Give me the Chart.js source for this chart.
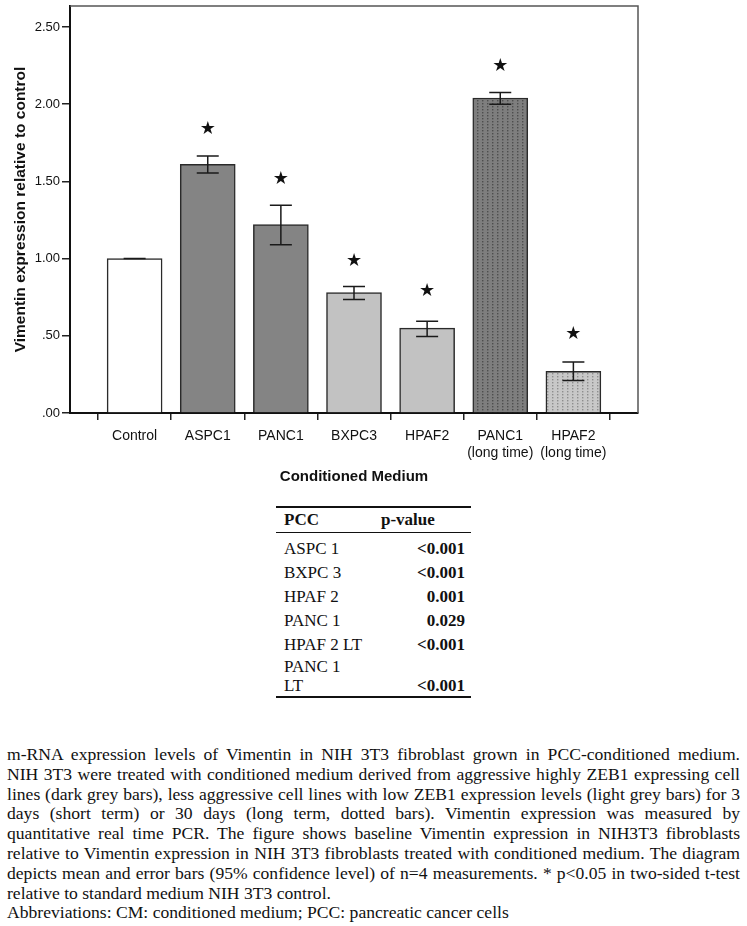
<!DOCTYPE html>
<html>
<head>
<meta charset="utf-8">
<script src="https://cdn.jsdelivr.net/npm/chart.js@4.4.1/dist/chart.umd.min.js"></script>
<style>
  body { margin: 0; background: #fff; width: 747px; height: 926px; position: relative; overflow: hidden; }
  #c { position: absolute; left: 0; top: 0; }
  #pcc { position: absolute; left: 276px; top: 506px; width: 195px; font-family: 'Liberation Serif', 'Times New Roman', serif; font-size: 17px; color: #111; }
  #pcc table { width: 195px; border-collapse: collapse; table-layout: fixed; }
  #pcc th { font-weight: bold; text-align: left; height: 24px; padding: 0 0 0 8px; border-top: 2px solid #111; border-bottom: 1px solid #111; }
  #pcc td { padding: 0 0 0 8px; line-height: 24px; vertical-align: bottom; }
  #pcc tr.first td { padding-top: 4px; }
  #pcc tr.last td { line-height: 19px; border-bottom: 2px solid #111; padding-bottom: 1px; }
  #pcc td.pv { font-weight: bold; text-align: right; padding-left: 0; padding-right: 6px; }
  #cap { position: absolute; left: 7px; top: 745px; width: 733px; font-family: 'Liberation Serif', 'Times New Roman', serif; font-size: 17.6px; line-height: 19.8px; color: #111; }
  #cap div { text-align: justify; text-align-last: justify; white-space: nowrap; }
  #cap div.end { text-align-last: left; }
</style>
</head>
<body>
<canvas id="c" width="747" height="490"></canvas>
<div id="pcc"><table><colgroup><col style="width:97px"><col style="width:98px"></colgroup><thead><tr><th>PCC</th><th style="padding-left:8px">p-value</th></tr></thead><tbody id="pcc-body"></tbody></table></div>
<div id="cap">
  <div>m-RNA expression levels of Vimentin in NIH 3T3 fibroblast grown in PCC-conditioned medium.</div>
  <div>NIH 3T3 were treated with conditioned medium derived from aggressive highly ZEB1 expressing cell</div>
  <div>lines (dark grey bars), less aggressive cell lines with low ZEB1 expression levels (light grey bars) for 3</div>
  <div>days (short term) or 30 days (long term, dotted bars). Vimentin expression was measured by</div>
  <div>quantitative real time PCR. The figure shows baseline Vimentin expression in NIH3T3 fibroblasts</div>
  <div>relative to Vimentin expression in NIH 3T3 fibroblasts treated with conditioned medium. The diagram</div>
  <div>depicts mean and error bars (95% confidence level) of n=4 measurements. * p&lt;0.05 in two-sided t-test</div>
  <div class="end">relative to standard medium NIH 3T3 control.</div>
  <div class="end">Abbreviations: CM: conditioned medium; PCC: pancreatic cancer cells</div>
</div>
<script>
// ── data ──
const categories = ['Control', 'ASPC1', 'PANC1', 'BXPC3', 'HPAF2', ['PANC1', '(long time)'], ['HPAF2', '(long time)']];
const means      = [1.00, 1.61, 1.22, 0.78, 0.55, 2.04, 0.27];
const ciLow      = [1.00, 1.555, 1.09, 0.735, 0.495, 2.00, 0.21];
const ciHigh     = [1.00, 1.665, 1.345, 0.82, 0.595, 2.075, 0.33];
const starAt     = [null, 1.835, 1.515, 0.985, 0.79, 2.245, 0.51];
const yTicks     = [0, 0.5, 1.0, 1.5, 2.0, 2.5];

const pccNames  = ['ASPC 1', 'BXPC 3', 'HPAF 2', 'PANC 1', 'HPAF 2 LT', 'PANC 1<br>LT'];
const pccValues = ['<0.001', '<0.001', '0.001', '0.029', '<0.001', '<0.001'];

// table
document.getElementById('pcc-body').innerHTML = pccNames.map((n, i) => {
  const cls = i === 0 ? ' class="first"' : i === pccNames.length - 1 ? ' class="last"' : '';
  const v = pccValues[i].replace('<', '&lt;');
  return `<tr${cls}><td>${n}</td><td class="pv">${v}</td></tr>`;
}).join('');

// dotted fills for the long-term bars
function dots(bg, dot) {
  const p = document.createElement('canvas');
  p.width = 5; p.height = 3;
  const g = p.getContext('2d');
  g.fillStyle = bg; g.fillRect(0, 0, 5, 3);
  g.fillStyle = dot; g.fillRect(2, 1, 1.4, 1.4);
  return g.createPattern(p, 'repeat');
}
const ctx = document.getElementById('c').getContext('2d');
const DARK = '#848484', LIGHT = '#c2c2c2';
const fills = ['#ffffff', DARK, DARK, LIGHT, LIGHT, dots('#7e7e7e', '#4e4e4e'), dots('#c8c8c8', '#8e8e8e')];

const X_MIN = -0.8836, X_MAX = categories.length - 1 + 0.8836;

const extras = {
  id: 'extras',
  beforeDatasetsDraw(chart) {
    const { ctx, chartArea: a } = chart;
    ctx.save();
    ctx.strokeStyle = '#555';
    ctx.lineWidth = 1.5;
    ctx.beginPath();
    ctx.moveTo(a.left, a.top); ctx.lineTo(a.right, a.top); ctx.lineTo(a.right, a.bottom);
    ctx.stroke();
    ctx.restore();
  },
  afterDatasetsDraw(chart) {
    const { ctx, scales: { x, y } } = chart;
    ctx.save();
    ctx.strokeStyle = '#1a1a1a';
    ctx.lineWidth = 1.5;
    means.forEach((m, i) => {
      const px = x.getPixelForValue(i);
      const hi = y.getPixelForValue(ciHigh[i]);
      const lo = y.getPixelForValue(ciLow[i]);
      ctx.beginPath();
      ctx.moveTo(px, hi); ctx.lineTo(px, lo);
      ctx.moveTo(px - 11, hi); ctx.lineTo(px + 11, hi);
      ctx.moveTo(px - 11, lo); ctx.lineTo(px + 11, lo);
      ctx.stroke();
    });
    ctx.fillStyle = '#111';
    ctx.font = '18px "DejaVu Sans"';
    ctx.textAlign = 'center';
    ctx.textBaseline = 'middle';
    starAt.forEach((s, i) => {
      if (s == null) return;
      ctx.fillText('★', x.getPixelForValue(i), y.getPixelForValue(s));
    });
    ctx.restore();
  }
};

new Chart(ctx, {
  type: 'bar',
  data: {
    datasets: [{
      data: means.map((v, i) => ({ x: i, y: v })),
      backgroundColor: fills,
      borderColor: '#2a2a2a',
      borderWidth: 1.5,
      barThickness: 55
    }]
  },
  options: {
    responsive: false,
    animation: false,
    layout: { padding: { top: 6, right: 109, left: 0, bottom: 0 } },
    plugins: { legend: { display: false }, tooltip: { enabled: false } },
    scales: {
      x: {
        type: 'linear', min: X_MIN, max: X_MAX, offset: false,
        afterBuildTicks: ax => { ax.ticks = categories.map((c, i) => ({ value: i })); },
        afterFit: ax => { ax.height = 77; ax.paddingLeft = 0; ax.paddingRight = 0; },
        ticks: {
          autoSkip: false, maxRotation: 0, padding: 8, color: '#111',
          font: { family: 'Liberation Sans', size: 14 },
          callback: v => categories[v]
        },
        grid: { drawOnChartArea: false, drawTicks: true, tickLength: 7, color: '#222', lineWidth: 1.5 },
        border: { display: true, color: '#111', width: 2 },
        title: {
          display: true, text: 'Conditioned Medium', color: '#111',
          font: { family: 'Liberation Sans', size: 15, weight: 'bold' },
          padding: { top: 0, bottom: 4 }
        }
      },
      y: {
        min: 0, max: 2.636,
        afterBuildTicks: ax => { ax.ticks = yTicks.map(v => ({ value: v })); },
        afterFit: ax => { ax.width = 70; ax.paddingTop = 0; ax.paddingBottom = 0; },
        ticks: {
          padding: 2, color: '#111',
          font: { family: 'Liberation Sans', size: 13 },
          callback: v => v < 1 ? v.toFixed(2).slice(1) : v.toFixed(2)
        },
        grid: { drawOnChartArea: false, drawTicks: true, tickLength: 8, color: '#222', lineWidth: 1.5 },
        border: { display: true, color: '#111', width: 2 },
        title: {
          display: true, text: 'Vimentin expression relative to control', color: '#111',
          font: { family: 'Liberation Sans', size: 15.5, weight: 'bold' },
          padding: { top: 11, bottom: 0 }
        }
      }
    }
  },
  plugins: [extras]
});
</script>
</body>
</html>
